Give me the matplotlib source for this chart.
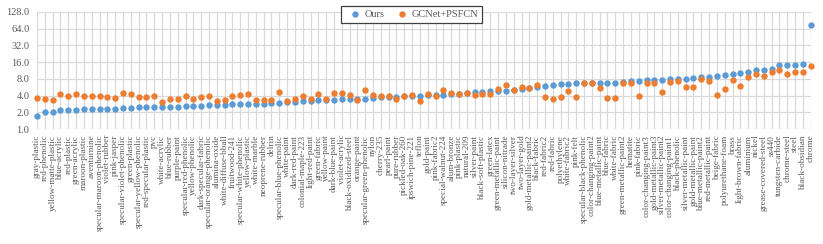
import matplotlib
matplotlib.use("Agg")
import matplotlib.pyplot as plt
from matplotlib.ticker import FixedLocator, FixedFormatter

# materials, sorted by our error
materials = [
    "gray-plastic", "red-phenolic", "yellow-matte-plastic", "blue-acrylic", "red-plastic",
    "green-acrylic", "maroon-plastic", "aventurnine", "specular-maroon-phenolic", "violet-rubber",
    "pink-jasper", "specular-violet-phenolic", "green-plastic", "specular-yellow-phenolic", "red-specular-plastic",
    "pvc", "white-acrylic", "blue-rubber", "purple-paint", "specular-red-phenolic",
    "yellow-phenolic", "dark-specular-fabric", "specular-orange-phenolic", "alumina-oxide", "white-diffuse-bball",
    "fruitwood-241", "specular-white-phenolic", "yellow-plastic", "white-marble", "neoprene-rubber",
    "delrin", "specular-blue-phenolic", "white-paint", "dark-red-paint", "colonial-maple-223",
    "light-red-paint", "green-fabric", "yellow-paint", "dark-blue-paint", "violet-acrylic",
    "black-oxidized-steel", "orange-paint", "specular-green-phenolic", "nylon", "cherry-235",
    "pearl-paint", "pure-rubber", "pickled-oak-260", "ipswich-pine-221", "teflon",
    "gold-paint", "pink-fabric2", "special-walnut-224", "alum-bronze", "pink-plastic",
    "natural-209", "silver-paint", "black-soft-plastic", "green-latex", "green-metallic-paint",
    "silicon-nitrade", "two-layer-silver", "two-layer-gold", "gold-metallic-paint2", "black-fabric",
    "red-fabric2", "red-fabric", "polyethylene", "white-fabric2", "pink-felt",
    "specular-black-phenolic", "color-changing-paint2", "blue-metallic-paint", "blue-fabric", "white-fabric",
    "green-metallic-paint2", "hematite", "pink-fabric", "color-changing-paint3", "gold-metallic-paint3",
    "silver-metallic-paint2", "color-changing-paint1", "black-phenolic", "silver-metallic-paint", "gold-metallic-paint",
    "blue-metallic-paint2", "red-metallic-paint", "beige-fabric", "polyurethane-foam", "brass",
    "light-brown-fabric", "aluminium", "nickel", "grease-covered-steel", "ss440",
    "tungsten-carbide", "chrome-steel", "steel", "black-obsidian", "chrome",
]

ours = [
    1.74, 2.03, 2.07, 2.20, 2.23, 2.23, 2.26, 2.26, 2.30, 2.30,
    2.33, 2.40, 2.43, 2.46, 2.46, 2.50, 2.50, 2.53, 2.53, 2.57,
    2.63, 2.63, 2.67, 2.70, 2.76, 2.80, 2.84, 2.84, 2.88, 2.88,
    2.96, 2.96, 3.05, 3.10, 3.15, 3.23, 3.28, 3.28, 3.37, 3.42,
    3.42, 3.44, 3.46, 3.60, 3.70, 3.75, 3.84, 3.88, 3.95, 4.00,
    4.10, 4.15, 4.15, 4.26, 4.35, 4.45, 4.60, 4.65, 4.85, 4.90,
    4.90, 5.07, 5.25, 5.50, 5.80, 6.05, 6.20, 6.40, 6.50, 6.70,
    6.80, 6.80, 6.80, 6.80, 6.80, 7.00, 7.20, 7.30, 7.50, 7.60,
    7.67, 7.80, 8.00, 8.00, 8.20, 8.60, 8.60, 9.15, 9.40, 9.70,
    10.1, 10.8, 11.5, 11.7, 12.2, 14.3, 14.3, 14.4, 14.6, 75.0,
]

gcnet_psfcn = [
    3.59, 3.48, 3.39, 4.34, 3.95, 4.34, 3.95, 3.95, 3.95, 3.84,
    3.69, 4.53, 4.24, 3.84, 3.74, 4.00, 3.10, 3.44, 3.52, 3.95,
    3.44, 3.84, 3.88, 3.15, 3.28, 4.00, 4.15, 4.26, 3.35, 3.28,
    3.28, 4.60, 3.20, 3.44, 3.95, 3.48, 4.20, 3.48, 4.41, 4.41,
    4.10, 3.35, 5.07, 4.15, 4.00, 3.95, 3.44, 3.95, 4.15, 3.15,
    4.26, 4.00, 5.00, 4.50, 4.35, 4.50, 4.05, 4.20, 4.26, 5.30,
    6.10, 5.07, 5.80, 5.50, 6.10, 3.70, 3.48, 3.84, 4.80, 3.70,
    6.85, 6.70, 5.40, 3.65, 3.65, 6.85, 6.80, 3.95, 6.80, 6.86,
    4.70, 6.90, 7.33, 5.75, 5.75, 8.00, 7.40, 4.03, 5.20, 7.67,
    5.90, 8.80, 9.80, 9.15, 10.6, 11.7, 9.80, 10.7, 10.6, 13.8,
]

yticks = [1, 2, 4, 8, 16, 32, 64, 128]

BLUE = "#5B9BD5"
ORANGE = "#ED7D31"
TEXT = "#595959"
GRID = "#D9D9D9"

plt.rcParams["font.family"] = ["Liberation Serif", "DejaVu Serif"]

fig = plt.figure(figsize=(8.23, 2.44), dpi=100)
ax = fig.add_axes([0.045, 0.471, 0.94, 0.480])

x = list(range(len(materials)))
ax.plot(x, ours, "o", ms=4.6, color=BLUE, mec="none", label="Ours", clip_on=False, zorder=3)
ax.plot(x, gcnet_psfcn, "o", ms=4.6, color=ORANGE, mec="none", label="GCNet+PSFCN", clip_on=False, zorder=4)

ax.set_yscale("log", base=2)
ax.set_ylim(1, 128)
ax.yaxis.set_major_locator(FixedLocator(yticks))
ax.yaxis.set_major_formatter(FixedFormatter([f"{t:.1f}" for t in yticks]))
ax.yaxis.set_minor_locator(FixedLocator([]))

ax.set_xlim(0, len(materials) - 1)
ax.set_xticks(x)
ax.set_xticklabels(materials, rotation=90, fontsize=6.6, color=TEXT)

ax.tick_params(axis="y", length=0, pad=5.5, labelsize=7.5, labelcolor=TEXT)
ax.tick_params(axis="x", length=0, pad=4)

ax.grid(True, color=GRID, linewidth=0.9)
ax.set_axisbelow(True)
for s in ax.spines.values():
    s.set_visible(False)

leg = fig.legend(loc="center", bbox_to_anchor=(0.5, 0.94), ncol=2, fontsize=7.5,
                 handletextpad=0.0, columnspacing=0.6, borderpad=0.35,
                 fancybox=False, framealpha=1, edgecolor="#404040", markerscale=1.0)
leg.get_frame().set_linewidth(0.9)
for t in leg.get_texts():
    t.set_color(TEXT)

fig.savefig("out.png", dpi=100)
